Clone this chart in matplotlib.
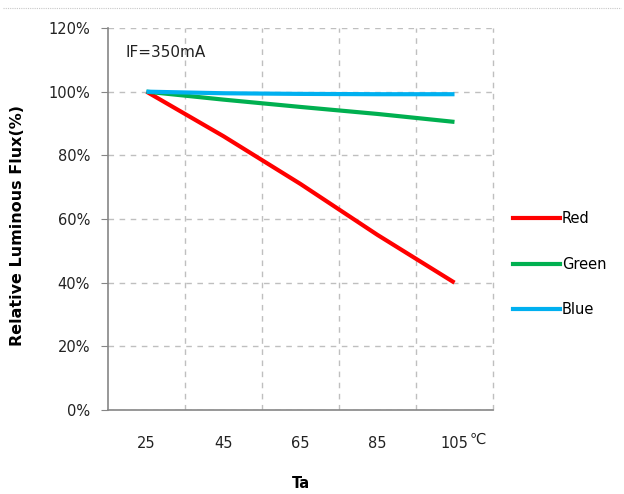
import numpy as np
import matplotlib.pyplot as plt
from matplotlib.lines import Line2D

# data
temps = ['25', '45', '65', '85', '105']
red = [100, 86, 71, 55, 40]
green = [100, 97.5, 95.2, 93.0, 90.5]
blue = [100, 99.5, 99.3, 99.2, 99.2]
series_names = ['Red', 'Green', 'Blue']
series_colors = ['#FF0000', '#00B050', '#00B0F0']

plt.rcParams['font.family'] = ['DejaVu Sans', 'Noto Sans CJK SC']

fig = plt.figure(figsize=(6.24, 4.94), dpi=100)
ax = fig.add_axes([108 / 624, 1 - 410 / 494, 385 / 624, 382 / 494])

x = np.arange(1, len(temps) + 1)
for vals, name, col in zip([red, green, blue], series_names, series_colors):
    ax.plot(x, vals, color=col, lw=3, label=name, solid_capstyle='butt')

ax.set_xlim(0.5, 5.5)
ax.set_ylim(0, 120)
ax.set_xticks(x)
ax.set_xticklabels(temps, fontsize=10.5, color='#222222')
ax.set_xticks(np.arange(1.5, 5.0, 1.0), minor=True)
ax.set_yticks(np.arange(0, 121, 20))
ax.set_yticklabels([f'{v}%' for v in range(0, 121, 20)], fontsize=10.5, color='#222222')

ax.tick_params(axis='x', which='both', length=0, pad=19)
ax.tick_params(axis='y', length=5, color='#868686', pad=8)

gs = dict(color='#BFBFBF', lw=1, dashes=(4, 4))
ax.grid(axis='x', which='minor', **gs)
ax.grid(axis='y', which='major', **gs)
ax.axvline(5.5, clip_on=False, zorder=0.5, **gs)
ax.set_axisbelow(True)

for s in ['top', 'right']:
    ax.spines[s].set_visible(False)
for s in ['left', 'bottom']:
    ax.spines[s].set_color('#868686')
    ax.spines[s].set_linewidth(1.2)

ax.text(0.045, 0.955, 'IF=350mA', transform=ax.transAxes, fontsize=11,
        va='top', ha='left', color='#222222')
fig.text(478 / 624, 1 - 439 / 494, '℃', fontsize=10.5, color='#222222',
         ha='center', va='center')

fig.text(301 / 624, 1 - 483 / 494, 'Ta', fontsize=10.5, fontweight='bold',
         ha='center', va='center')
fig.text(18 / 624, 1 - 226 / 494, 'Relative Luminous Flux(%)', fontsize=11.5,
         fontweight='bold', rotation=90, ha='center', va='center')

handles = [Line2D([], [], color=c, lw=3) for c in series_colors]
fig.legend(handles, series_names, loc='upper left',
           bbox_to_anchor=(500 / 624, 1 - 198 / 494), frameon=False,
           fontsize=10.5, handlelength=3.2, handletextpad=0.15,
           labelspacing=2.1)

# dotted frame line at top of the chart area
fig.add_artist(Line2D([0.005, 0.995], [1 - 8 / 494, 1 - 8 / 494],
                      transform=fig.transFigure, color='#C8C8C8', lw=0.8,
                      ls=(0, (1, 1))))

fig.savefig('out.png', dpi=100)
